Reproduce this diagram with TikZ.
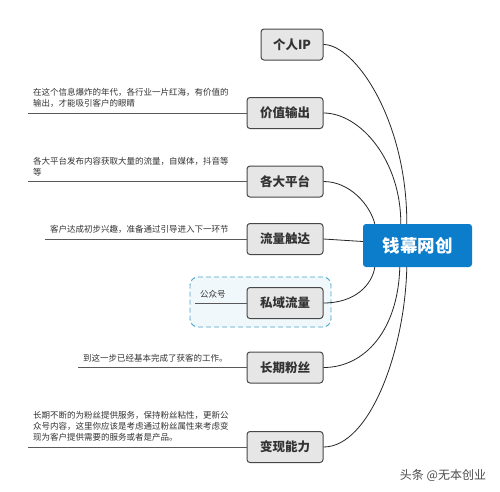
\documentclass[tikz,border=0pt]{standalone}
\usepackage{fontspec}
\setmainfont{Noto Sans CJK SC}
\definecolor{cblue}{HTML}{0B7DCB}
\definecolor{boxfill}{HTML}{E6E6E6}
\definecolor{boxline}{HTML}{474747}
\definecolor{grpline}{HTML}{4AA3C8}
\definecolor{grpfill}{HTML}{F1F8FC}
\definecolor{notecol}{HTML}{333333}
\tikzset{
  box/.style={draw=boxline, fill=boxfill, line width=1pt, rounded corners=3pt,
    minimum width=76pt, minimum height=31pt, inner sep=0pt,
    font=\fontsize{12.5}{14}\selectfont\bfseries, text=notecol},
  central/.style={fill=cblue, rounded corners=3pt, minimum width=109pt, minimum height=43pt,
    inner sep=0pt, font=\fontsize{17.5}{20}\selectfont\bfseries, text=white},
  grp/.style={draw=grpline, dash pattern=on 5pt off 3pt, fill=grpfill, line width=0.9pt, rounded corners=8pt,
    minimum width=141pt, minimum height=50pt, inner sep=0pt},
  note/.style={anchor=south west, inner sep=0pt, align=left,
    font=\fontsize{8.5}{11}\selectfont, text=notecol},
  noteline/.style={draw=black!65, line width=0.9pt},
  curve/.style={draw=black!85, line width=0.8pt},
}
\begin{document}
\begin{tikzpicture}[x=1pt,y=-1pt]
\useasboundingbox (0,0) rectangle (500,491);
\fill[white] (0,0) rectangle (500,491);

% group
\node[grp] (g) at (260.5,302) {};

% central
\node[central] (c) at (417.5,245.5) {钱幕网创};

% branch boxes
\node[box, minimum width=62pt] (b1) at (292,44.5) {个人IP};
\node[box] (b2) at (285,113) {价值输出};
\node[box] (b3) at (285,181.5) {各大平台};
\node[box] (b4) at (285,239) {流量触达};
\node[box] (b5) at (285,303) {私域流量};
\node[box] (b6) at (285,367.5) {长期粉丝};
\node[box] (b7) at (285,447) {变现能力};

% annotation starts
\coordinate (l2) at (28,113);
\coordinate (l3) at (28,181.5);
\coordinate (l4) at (45,239);
\coordinate (l5) at (195,303);
\coordinate (l6) at (78,367.5);
\coordinate (l7) at (28,447);

\draw[noteline] (l2) -- (b2.west);
\draw[noteline] (l3) -- (b3.west);
\draw[noteline] (l4) -- (b4.west);
\draw[noteline] (l5) -- (b5.west);
\draw[noteline] (l6) -- (b6.west);
\draw[noteline] (l7) -- (b7.west);

\node[note] (t2) at (33,107.5) {在这个信息爆炸的年代，各行业一片红海，有价值的\\输出，才能吸引客户的眼睛};
\node[note] (t3) at (33,176) {各大平台发布内容获取大量的流量，自媒体，抖音等\\等};
\node[note] (t4) at (50,234) {客户达成初步兴趣，准备通过引导进入下一环节};
\node[note] (t5) at (200,298) {公众号};
\node[note] (t6) at (83,362.5) {到这一步已经基本完成了获客的工作。};
\node[note] (t7) at (33,441.5) {长期不断的为粉丝提供服务，保持粉丝粘性，更新公\\众号内容，这里你应该是考虑通过粉丝属性来考虑变\\现为客户提供需要的服务或者是产品。};

% connectors to central
\coordinate (e1) at ([xshift=44pt]c.north west);
\coordinate (e2) at ([xshift=38pt]c.north west);
\coordinate (e3) at ([xshift=12pt]c.north west);
\coordinate (e4) at ([yshift=4pt]c.west);
\coordinate (e5) at ([xshift=12pt]c.south west);
\coordinate (e6) at ([xshift=37pt]c.south west);
\coordinate (e7) at ([xshift=44pt]c.south west);

\draw[curve] (b1.east) .. controls (355,44.5) and (407,120) .. (e1);
\draw[curve] (b2.east) .. controls (360,113) and (401,160) .. (e2);
\draw[curve] (b3.east) .. controls (350,181.5) and (370,205) .. (e3);
\draw[curve] (b4.east) -- (e4);
\draw[curve] (b5.east) .. controls (355,303) and (372,285) .. (e5);
\draw[curve] (b6.east) .. controls (365,367.5) and (398,330) .. (e6);
\draw[curve] (b7.east) .. controls (370,447) and (405,350) .. (e7);

% watermark
\node[font=\fontsize{12}{14}\selectfont, text=black!70, inner sep=0pt] (wm) at (443,475) {头条 @无本创业};
\end{tikzpicture}
\end{document}
